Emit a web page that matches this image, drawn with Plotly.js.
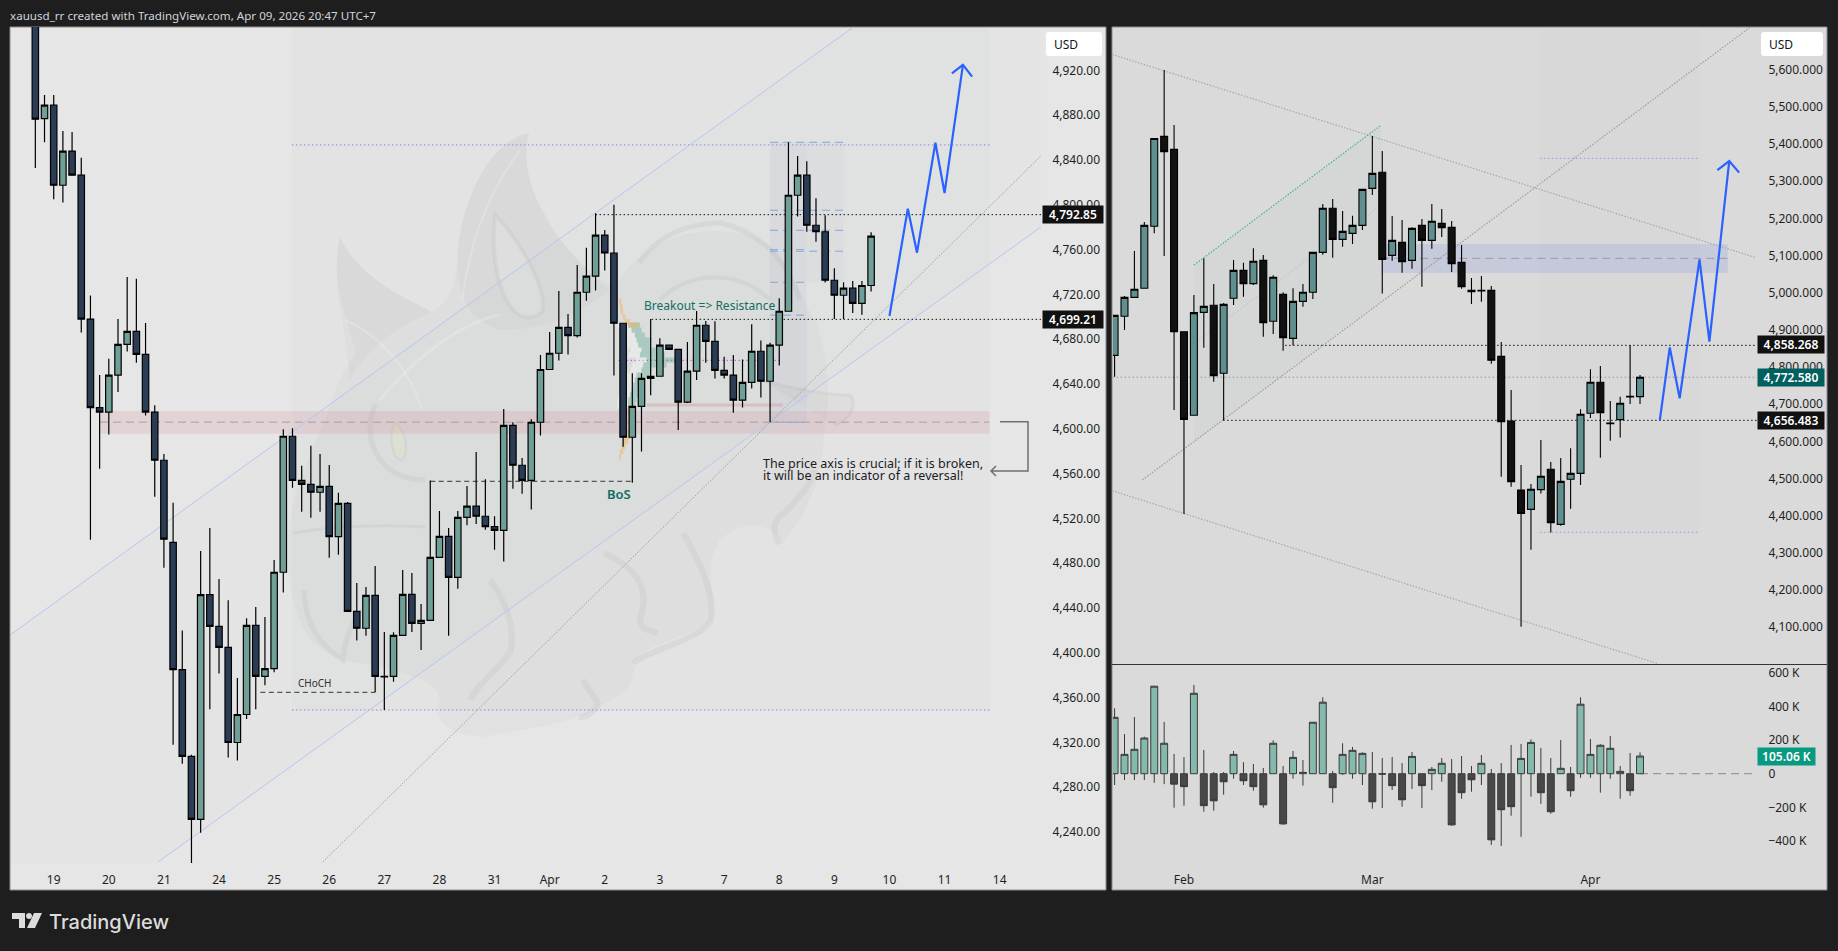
<!DOCTYPE html>
<html>
<head>
<meta charset="utf-8">
<script src="https://cdn.plot.ly/plotly-3.0.1.min.js"></script>
<style>html,body{margin:0;padding:0;background:#1e1e1e;overflow:hidden}</style>
</head>
<body>
<div id="chart" style="width:1838px;height:951px"></div>
<script>
// left pane, 4h candles
var leftOpen = [4975,4877,4889,4817.5,4848,4826.5,4698,4619,4615,4648,
  4675.5,4687,4666.5,4615,4572,4498.7,4385,4307.6,4251.4,4452,
  4423.7,4405,4320,4345,4424.6,4379,4386,4472,4593.4,4554,
  4550.5,4543.4,4548.7,4503.8,4533.5,4437,4422,4451.4,4379,4379,
  4415.7,4452.3,4426.4,4429,4485.3,4504,4467.5,4521,4531,4522,
  4512.7,4509.4,4603.2,4567.5,4554,4605.9,4653,4667.5,4690.7,4683.3,
  4722,4736.3,4773,4757,4694.3,4592.5,4620,4645,4647,4674.7,
  4671,4623.8,4651.5,4692.5,4678.2,4652.3,4648,4625.6,4641.6,4669.3,
  4642.5,4674.7,4705,4808.6,4826.5,4781.8,4776,4732.7,4719.3,4725.6,4712,4728]
var leftHigh = [4990,4898,4898,4866,4865,4842,4719,4648,4662.5,4698,
  4735.5,4734,4694.5,4621,4577.6,4534,4420,4309,4491,4511.5,
  4466,4447,4377.6,4431,4441,4432,4483,4599.6,4600.5,4567,
  4585,4577.6,4567.8,4543,4534.7,4462.4,4458.8,4477.6,4418.7,4418.4,
  4474,4471.3,4443.7,4554,4526.7,4511.5,4526.7,4549,4579.4,4555,
  4522,4617.8,4606,4574,4608.6,4666,4686.6,4723,4702.6,4746.4,
  4761.6,4792.5,4777.6,4800,4694.3,4649.7,4649.7,4698,4681,4674.7,
  4671,4677.6,4705.3,4696.4,4696,4664.5,4666,4662,4693.4,4679,
  4677,4716.6,4856,4843.7,4839,4806,4790.7,4743.4,4731,4732,4732,4775.6]
var leftLow = [4833,4856,4805,4802,4826.5,4686,4501,4564.5,4595,4633,
  4669,4659,4612,4539.5,4476,4318,4301,4212,4239.5,4349.6,
  4381.5,4306.5,4304,4341,4349.6,4371,4382.6,4453.8,4547.5,4526,
  4520.7,4526,4485,4487.7,4437,4411,4415.4,4364.8,4349,4374.3,
  4415.7,4418.7,4402.6,4429,4485.3,4415.4,4457.3,4514,4515,4510,
  4492,4481.5,4546.6,4542,4528,4594,4653,4661,4666.3,4681.5,
  4714.5,4723.5,4741.3,4647.6,4584,4552,4579.7,4630,4647,4671,
  4599,4623,4643.7,4659,4645,4645,4614.5,4619,4636,4628,
  4606,4656.5,4705,4789.5,4776,4767,4730.6,4698,4698,4703.5,4702,4722.6]
var leftClose = [4876.5,4889,4817.5,4848,4826.5,4698,4619,4615,4648,4675.5,
  4687,4666.5,4615,4572,4501.5,4385,4307.6,4251.4,4452,4423.7,
  4405,4320,4345,4424.6,4379,4386,4472,4593.4,4554,4550.5,
  4543.4,4548.7,4503.8,4533.5,4437,4422,4451.4,4379,4378.5,4415.7,
  4452.3,4426.4,4429,4485.3,4504,4467.5,4521,4531,4522,4512.7,
  4509.4,4603.2,4567.5,4554,4605.9,4653,4667.5,4690.7,4683.3,4722,
  4736.3,4773,4757,4694.3,4592.5,4620,4645,4647,4674.7,4671,
  4623.8,4651.5,4692.5,4678.2,4652.3,4648,4625.6,4641.6,4669.3,4642.5,
  4674.7,4705,4808.6,4826.5,4781.8,4776,4732.7,4719.3,4725.6,4712,4728,4772]
var leftTickIdx = [2,8,14,20,26,32,38,44,50,56,62,68,75,81,87,93,99,105]
var leftTickText = ['19','20','21','24','25','26','27','28','31','Apr','2','3','7','8','9','10','11','14']
var leftPriceTicks = [4240,4280,4320,4360,4400,4440,4480,4520,4560,4600,4640,4680,4720,4760,4800,4840,4880,4920]

// right pane, daily candles
var rightOpen = [4831.4,4936.4,4987.4,5011.7,5178.5,5420.6,5385.6,4895,4670,4947,
  4966,4783,4984.8,5060,5024.2,5087,4922.9,4995.5,4877,4976.7,
  5001,5108.5,5227,5143.5,5159.6,5181,5280.7,5323.8,5100.4,5135.4,
  5087,5181,5140.8,5186.5,5175.8,5081.6,5006.3,5006.3,5006.3,4828.7,
  4654.7,4469,4417,4470,4524.7,4376.7,4497.8,4513.9,4675.4,4758.8,
  4649.4,4658.4,4721,4720.2]
var rightHigh = [4940,4991,5112,5190,5415,5599,5451,4895,4993.7,5092.4,
  5023.4,4972.2,5088,5080.7,5119.3,5101.4,5046.6,5001,5011.7,5023.4,
  5108.5,5238.6,5252,5219.7,5207,5278,5421.5,5381,5206.4,5195.5,
  5175.8,5198,5238.6,5225,5192.8,5128.3,5039.5,5045,5018,4867,
  4738,4536.4,4485.3,4603.6,4544.4,4555.2,4581.2,4686,4793.7,4802.7,
  4708.5,4720.2,4858.3,4778.5]
var rightLow = [4774,4899.6,4987.4,5011.7,5159.6,5098.7,4684.4,4404.5,4670,4852,
  4760.6,4657.4,4966.8,4989.2,5020.6,4881.6,4888.8,4844,4858.4,4962.4,
  4983,5102,5094,5123.8,5131,5168.6,5262.8,4998,5086,5053.8,
  5064.6,5016,5118.4,5149.8,5055.6,5010.8,4969.5,4975.8,4809,4505,
  4478,4101.4,4308.6,4459.4,4355,4373,4418.9,4482.6,4662.8,4556,
  4601.8,4610,4700.5,4700.5]
var rightClose = [4939,4987.4,5009,5181,5415,5379.4,4895,4659.2,4946.2,4963.2,
  4776.7,4968.6,5060,5024.2,5084.4,4919.3,5041.3,4879,4976.7,5001,
  5108.5,5227,5143.5,5165,5181,5278,5321,5089.7,5140.8,5083.4,
  5173,5140.8,5192,5175,5078,5016,5002.7,5004.5,4818,4653,
  4491.5,4406.3,4470.9,4505.9,4381.2,4492.4,4513.9,4672.7,4758.8,4677.2,
  4647.6,4702.4,4719.3,4772.6]
var rightTickIdx = [7,26,48]
var rightTickText = ['Feb','Mar','Apr']
var rightPriceTicks = [4100,4200,4300,4400,4500,4600,4700,4800,4900,5000,5100,5200,5300,5400,5500,5600]

// cumulative volume delta pane, in K
var deltaClose = [335,115,145,212,520,181,-62,-77,478,-190,
  -161,-48,115,-42,-77,-185,181,-298,97,8,
  306,425,-83,115,139,121,-167,-2,-71,-155,
  103,-71,26,62,-304,-113,-36,62,-393,-214,
  -196,91,186,-113,-226,32,-101,413,115,169,
  151,14,-101,105.06]
var deltaHigh = [389,236,337,220,520,308,117,99,528,141,
  10,10,135,69,58,34,198,46,135,81,
  306,454,16,181,159,127,129,93,99,63,
  129,0,40,93,87,105,46,111,28,63,
  171,177,204,153,93,200,40,454,206,175,
  224,46,123,127]
var deltaLow = [-67,-38,-38,-38,-54,-62,-202,-190,0,-226,
  -220,-125,-30,-67,-101,-202,0,-304,-30,-71,
  0,0,-173,-8,-30,-67,-208,-204,-97,-196,
  -91,-204,-97,-48,-310,-149,-107,-67,-423,-429,
  -250,-375,-137,-179,-238,0,-137,-24,-24,-113,
  -30,-149,-131,0]
var deltaTicks = [-400,-200,0,200,400,600]
var deltaTickText = ['\u2212400 K','\u2212200 K','0','200 K','400 K','600 K']

// projected path arrows
var zigLeftX = [93,95,96,98,99,101]
var zigLeftY = [4700.8,4796.6,4757.3,4855.5,4810.6,4925]
var headLeftX = [99.8,101,102]
var headLeftY = [4917.5,4925,4914.5]
var zigRightX = [55,56,57,59,60,62]
var zigRightY = [4657.4,4852.9,4715.7,5089.7,4868,5354.2]
var headRightX = [60.8,62,63]
var headRightY = [5330,5354.2,5322.9]

// volume profile rows on the left pane
var profPrice = [4692.7,4688.2,4683.8,4679.4,4674.9,4670.4,4666,4661.5,4657,4652.6,4648.1,4643.6,4639.2,4634.7,4630.3,4625.8,4621.3]
var profStart = [64.55,64.92,65.28,65.46,65.64,66,65.82,66.55,66.19,66,65.46,65.28,65.1,64.92,64.74,64.55,64.55]
var profLen = [1.27,1.09,1.09,1.63,1.27,1.63,2.72,3.08,2.54,1.09,1.45,0.91,0.91,0.91,0.91,0.91,0.73]
var profOrangePrice = [4713.6,4709,4704.6,4700,4695.7,4692.7,4615.4,4606,4597.5,4593,4588.6,4584,4579.6,4575]
var profOrangeStart = [63.57,63.65,63.72,63.94,64.19,64.66,64.37,64.37,64.15,64.08,63.94,63.83,63.65,63.57]
var profOrangeLen = [0.22,0.29,0.29,0.29,0.54,0.98,0.58,0.58,0.65,0.65,0.58,0.4,0.36,0.22]

// fib levels on the left pane
var fibLong = [4855.9,4795.2,4777.3,4758.6]
var fibShort = [4760,4730.9,4701.5,4606]

var FONT = '"Noto Sans", "Liberation Sans", sans-serif'
var DOT = '1.5px,2.5px'
var FINE = '1.5px,1.5px'
var DASH = '5px,3.5px'
var LONG = '8px,5px'

function range_of(n) { return n.map(function (_, i) { return i }) }

function pp(d) {
    return d.replace(/(-?[\d.]+) (-?[\d.]+)/g, function (m, a, b) {
        return (a / 1838).toFixed(5) + ' ' + (1 - b / 951).toFixed(5)
    })
}

function paper_rect(x0, y0, x1, y1, fill, line) {
    return {type: 'rect', xref: 'paper', yref: 'paper', x0: x0 / 1838, x1: x1 / 1838, y0: 1 - y0 / 951, y1: 1 - y1 / 951,
        fillcolor: fill, line: line || {width: 0}, layer: 'below'}
}

function paper_path(d, fill, color, width, layer) {
    return {type: 'path', xref: 'paper', yref: 'paper', path: pp(d), fillcolor: fill || 'rgba(0,0,0,0)',
        line: {color: color || 'rgba(0,0,0,0)', width: width || 0}, layer: layer || 'below'}
}

function seg(ax, x0, y0, x1, y1, color, width, dash) {
    return {type: 'line', xref: 'x' + ax, yref: 'y' + ax, x0: x0, y0: y0, x1: x1, y1: y1,
        line: {color: color, width: width, dash: dash || 'solid'}, layer: 'below'}
}

function zone(ax, x0, y0, x1, y1, fill) {
    return {type: 'rect', xref: 'x' + ax, yref: 'y' + ax, x0: x0, y0: y0, x1: x1, y1: y1,
        fillcolor: fill, line: {width: 0}, layer: 'below'}
}

function txt(x, y, text, size, color, extra) {
    var a = {xref: 'paper', yref: 'paper', x: x / 1838, y: 1 - y / 951, text: text, showarrow: false,
        xanchor: 'left', yanchor: 'middle', align: 'left', font: {family: FONT, size: size, color: color}}
    for (var k in extra) a[k] = extra[k]
    return a
}

function tag(x, y, w, h, text, bg, size) {
    return txt(x, y, text, size || 12, '#ffffff', {bgcolor: bg, width: w, height: h, align: 'center', borderpad: 0,
        font: {family: FONT, size: size || 12, color: '#ffffff', weight: 600}})
}

function wick_bar(x, o, h, l, c, upFill, downFill, lineColor, ax, width) {
    return {type: 'candlestick', x: x, open: o, high: h, low: l, close: c, xaxis: 'x' + ax, yaxis: 'y' + ax,
        whiskerwidth: 0, hoverinfo: 'skip', showlegend: false,
        increasing: {fillcolor: upFill, line: {color: lineColor, width: width}},
        decreasing: {fillcolor: downFill, line: {color: lineColor, width: width}}}
}

function arrow_line(x, y, ax) {
    return {type: 'scatter', mode: 'lines', x: x, y: y, xaxis: 'x' + ax, yaxis: 'y' + ax, showlegend: false, hoverinfo: 'skip',
        line: {color: '#2962ff', width: 2.2}}
}

function prof_bar(price, start, len, color) {
    return {type: 'bar', orientation: 'h', y: price, x: len, base: start, width: 4.5, xaxis: 'x', yaxis: 'y',
        marker: {color: color, line: {width: 0}}, showlegend: false, hoverinfo: 'skip'}
}

var traces = [
    prof_bar(profPrice, profStart.map(function (v) { return v - 1.2 }), profLen.map(function () { return 1.2 }), 'rgba(255,255,255,0.35)'),
    prof_bar(profPrice, profStart, profLen, 'rgba(86,170,150,0.38)'),
    prof_bar(profOrangePrice, profOrangeStart, profOrangeLen, 'rgba(240,180,100,0.55)'),
    wick_bar(range_of(leftOpen), leftOpen, leftHigh, leftLow, leftClose, '#6f9f96', '#2a3d55', '#000000', '', 1.2),
    wick_bar(range_of(rightOpen), rightOpen, rightHigh, rightLow, rightClose, '#5f8f8f', '#111111', '#000000', '2', 1.1),
    wick_bar(range_of(deltaClose), deltaClose.map(function () { return 0 }), deltaHigh, deltaLow, deltaClose, '#84b9ad', '#484848', '#3a3a3a', '3', 1),
    arrow_line(zigLeftX, zigLeftY, ''),
    arrow_line(headLeftX, headLeftY, ''),
    arrow_line(zigRightX, zigRightY, '2'),
    arrow_line(headRightX, headRightY, '2')
]

var GHOST = 'rgba(95,95,105,0.03)'
var WISP = 'rgba(100,100,105,0.07)'
var PALE = 'rgba(255,255,255,0.22)'

var shapes = [
    // panes
    paper_rect(10, 27, 1106, 890, '#e6e6e6', {color: '#8c8c8c', width: 1}),
    paper_rect(1112, 27, 1827, 890, '#dadada', {color: '#8c8c8c', width: 1}),

    // watermark
    paper_path('M 326 420 C 335 380 352 360 356 353 C 345 310 330 280 340 237 C 360 280 410 300 432 312 C 448 300 455 295 458 250 C 462 200 490 140 529 133 C 522 160 530 190 545 215 C 560 245 590 275 615 287 C 640 240 700 220 754 237 C 790 250 800 300 815 320 C 830 360 830 400 825 430 C 820 480 815 490 800 520 L 782 544 C 770 520 740 520 720 540 C 700 570 720 610 711 620 C 690 640 650 640 633 663 C 640 690 610 700 597 707 C 590 720 520 730 483 737 C 450 735 430 720 440 700 C 440 680 400 670 343 660 C 320 650 300 640 290 587 C 285 540 290 500 305 470 C 310 450 318 435 326 420 Z', GHOST),
    paper_path('M 340 237 C 360 280 410 300 432 312 C 400 325 370 345 350 380 C 345 320 330 280 340 237 Z', GHOST),
    paper_path('M 529 133 C 522 160 530 190 545 215 C 560 245 590 275 610 290 C 570 320 540 330 500 330 C 470 320 455 300 458 250 C 462 200 490 140 529 133 Z', GHOST),
    paper_path('M 495 215 C 488 280 512 335 542 312 C 548 290 520 240 495 215 Z', 'rgba(255,255,255,0.14)', WISP, 4),
    paper_path('M 345 320 C 380 335 410 370 422 410', '', PALE, 2),
    paper_path('M 380 400 C 420 350 470 320 500 315', '', PALE, 3),
    paper_path('M 520 150 C 490 190 470 240 462 300', '', PALE, 2),
    paper_path('M 395 422 C 388 435 392 460 402 460 C 410 450 405 430 395 422 Z', 'rgba(240,240,180,0.22)', WISP, 2),
    paper_path('M 375 405 C 360 440 380 480 425 480', '', WISP, 5),
    paper_path('M 293 533 C 340 525 390 525 426 527', '', WISP, 3),
    paper_path('M 304 590 C 305 625 320 645 343 660 C 345 640 350 620 372 600', '', WISP, 5),
    paper_path('M 490 580 C 505 600 515 625 511 650 C 500 670 480 680 470 700', '', WISP, 6),
    paper_path('M 604 553 C 640 570 650 590 640 620 C 640 630 650 630 658 633', '', WISP, 6),
    paper_path('M 683 533 C 705 570 715 600 711 620 C 700 640 660 645 633 663', '', WISP, 6),
    paper_path('M 583 680 C 590 695 600 700 597 707 C 590 715 585 718 579 717', '', WISP, 6),
    paper_path('M 814 470 C 810 490 790 505 786 512 C 772 520 772 530 779 544', '', WISP, 6),
    paper_path('M 639 263 C 660 230 700 222 721 223 C 770 235 790 270 800 300', '', WISP, 5),
    paper_path('M 660 300 C 690 270 740 270 770 300', '', WISP, 4),
    paper_path('M 760 380 C 800 390 830 395 850 395 C 858 405 850 420 835 425', GHOST, WISP, 3),

    // left pane drawings
    zone('', 27.94, 4349, 103.9, 4958.8, 'rgba(170,170,190,0.05)'),
    {type: 'path', xref: 'x', yref: 'y', path: 'M -2.75 4416 L 109.5 5079.4 L 109.5 4780.3 L -2.75 4118 Z', fillcolor: 'rgba(110,180,120,0.025)', line: {width: 0}, layer: 'below'},
    zone('', 7.04, 4595.7, 103.9, 4616, 'rgba(205,120,130,0.17)'),
    zone('', 80, 4606, 84, 4855.9, 'rgba(100,120,180,0.06)'),
    zone('', 84, 4730.9, 88, 4855.9, 'rgba(100,120,180,0.035)'),
    seg('', 7.04, 4606, 103.9, 4606, '#a99f9f', 1, LONG),
    seg('', 27.94, 4853.5, 103.9, 4853.5, '#8d88cc', 1, DOT),
    seg('', 27.94, 4349, 103.9, 4349, '#9a7fe0', 1, DOT),
    seg('', -2.75, 4416, 89.07, 4958.8, '#b5c6ef', 1),
    seg('', 13.36, 4213.3, 109.5, 4780.3, '#b5c6ef', 1),
    seg('', 31.3, 4213.3, 109.5, 4843.7, '#9aa19f', 1, FINE),
    seg('', 61, 4791.25, 109.5, 4791.25, '#111111', 1, DOT),
    seg('', 67.1, 4697.8, 109.5, 4697.8, '#111111', 1, DOT),
    seg('', 43, 4553.2, 65, 4553.2, '#333333', 1, DASH),
    seg('', 24.5, 4364.8, 37, 4364.8, '#333333', 1, DASH),
    seg('', 63.5, 4661.2, 81.3, 4661.2, '#b44fc8', 1, DOT),
    seg('', 66.6, 4621.3, 81.4, 4621.3, 'rgba(205,130,130,0.3)', 3),

    // right pane drawings
    zone('2', 42.9, 4355, 59, 5714.8, 'rgba(205,205,220,0.1)'),
    {type: 'path', xref: 'x2', yref: 'y2', path: 'M 8 5074 L 26.9 5451 L 26.9 4980 L 8 4595 Z', fillcolor: 'rgba(120,175,160,0.05)', line: {width: 0}, layer: 'below'},
    zone('2', 26.9, 5053, 61.85, 5131, 'rgba(120,140,225,0.2)'),
    seg('2', 26.9, 5092.4, 61.85, 5092.4, '#9a9aa8', 1, LONG),
    seg('2', -0.23, 5641, 64.6, 5095, '#a3aaa8', 1.2, FINE),
    seg('2', -0.23, 4467, 54.7, 4002.7, '#a3aaa8', 1.2, FINE),
    seg('2', 2.8, 4496, 64.1, 5713.9, '#9c9e9e', 1.2, FINE),
    seg('2', 8, 5074.4, 26.9, 5451, '#43b596', 1.2, FINE),
    seg('2', 8, 4863.7, 26.9, 5235.9, '#c5c8c8', 1.2, FINE),
    seg('2', 42.9, 5361.4, 58.9, 5361.4, '#a78fe0', 1, DOT),
    seg('2', 42.9, 4355.2, 58.9, 4355.2, '#a78fe0', 1, DOT),
    seg('2', -0.2, 4772.58, 64.8, 4772.58, '#8f9a98', 1, DOT),
    seg('2', 17.2, 4858.27, 64.8, 4858.27, '#111111', 1, DOT),
    seg('2', 10.95, 4656.48, 64.8, 4656.48, '#111111', 1, DOT),
    seg('3', 53, 0, 64.8, 0, '#8a8a8a', 1, LONG),
    paper_rect(1112, 664, 1827, 665, '#333333'),

    // note bracket
    paper_path('M 1000 421.8 L 1028 421.8 L 1028 471 L 991 471 M 996 466 L 991 471 L 996 476', '', '#707070', 1.5, 'above'),

    // price scale unit boxes
    paper_path('M 1049 32 L 1099 32 Q 1102 32 1102 35 L 1102 53 Q 1102 56 1099 56 L 1049 56 Q 1046 56 1046 53 L 1046 35 Q 1046 32 1049 32 Z', '#ffffff', '', 0, 'above'),
    paper_path('M 1764 32 L 1820 32 Q 1823 32 1823 35 L 1823 53 Q 1823 56 1820 56 L 1764 56 Q 1761 56 1761 53 L 1761 35 Q 1761 32 1764 32 Z', '#ffffff', '', 0, 'above'),

    // footer logo
    paper_path('M 12 913 L 25 913 L 25 928 L 19 928 L 19 919 L 12 919 Z', '#dcdcdc', '', 0, 'above'),
    paper_path('M 26 916 C 26 912 32 912 32 916 C 32 920 26 920 26 916 Z', '#dcdcdc', '', 0, 'above'),
    paper_path('M 34 913 L 42 913 L 35 928 L 27 928 Z', '#dcdcdc', '', 0, 'above')
]

fibLong.forEach(function (p) { shapes.push(seg('', 80, p, 88, p, '#7fa9d8', 1, LONG)) })
fibShort.forEach(function (p) { shapes.push(seg('', 80, p, 84, p, '#7fa9d8', 1, LONG)) })

var annotations = [
    txt(8, 15, 'xauusd_rr created with TradingView.com, Apr 09, 2026 20:47 UTC+7', 11.6, '#d1d4dc'),
    txt(1052, 44, 'USD', 12, '#131722'),
    txt(1767, 44, 'USD', 12, '#131722'),
    tag(1042, 214.5, 60, 17, '4,792.85', '#111111'),
    tag(1042, 319.5, 60, 17, '4,699.21', '#111111'),
    tag(1757, 345, 66, 17, '4,858.268', '#111111'),
    tag(1757, 377, 66, 17, '4,772.580', '#005f5f'),
    tag(1757, 420.5, 66, 17, '4,656.483', '#111111'),
    tag(1757, 756.5, 57, 17, '105.06 K', '#089981'),
    txt(642, 305.7, 'Breakout => Resistance', 12, '#0f6e60'),
    txt(605, 494, 'BoS', 13, '#0f6e60', {font: {family: FONT, size: 13, color: '#0f6e60', weight: 600}}),
    txt(295.5, 683, 'CHoCH', 10, '#2f2f2f'),
    txt(761, 463, 'The price axis is crucial; if it is broken,', 12.5, '#1c1c1c'),
    txt(761, 475, 'it will be an indicator of a reversal!', 12.5, '#1c1c1c'),
    txt(47, 922, 'TradingView', 20, '#dcdcdc', {font: {family: 'Inter, ' + FONT, size: 20, color: '#dcdcdc', weight: 500}})
]

var AXFONT = {family: FONT, size: 12, color: '#1f1f1f'}

function price_axis(domain, range, anchor, vals, text, fmt) {
    var a = {domain: domain, range: range, anchor: anchor, side: 'right', showgrid: false, zeroline: false, showline: false,
        ticks: 'outside', ticklen: 8, tickcolor: 'rgba(0,0,0,0)', tickmode: 'array', tickvals: vals, tickfont: AXFONT, fixedrange: true}
    if (text) a.ticktext = text
    if (fmt) a.tickformat = fmt
    return a
}

function time_axis(domain, range, anchor, vals, text) {
    return {domain: domain, range: range, anchor: anchor, showgrid: false, zeroline: false, showline: false,
        rangeslider: {visible: false}, ticks: 'outside', ticklen: 6, tickcolor: 'rgba(0,0,0,0)', tickmode: 'array',
        tickvals: vals, ticktext: text, tickfont: AXFONT, fixedrange: true}
}

var rightDomain = [1113 / 1838, 1757 / 1838]

var layout = {
    width: 1838, height: 951, autosize: false,
    margin: {t: 0, l: 0, r: 0, b: 0, pad: 0},
    paper_bgcolor: '#1e1e1e', plot_bgcolor: 'rgba(0,0,0,0)',
    showlegend: false, barmode: 'overlay', dragmode: false,
    boxgap: 0.3, boxgroupgap: 0,
    xaxis: time_axis([11 / 1838, 1041 / 1838], [-2.65, 109.5], 'y', leftTickIdx, leftTickText),
    yaxis: price_axis([1 - 863 / 951, 1 - 27 / 951], [4212.4, 4958.8], 'x', leftPriceTicks, null, ',.2f'),
    xaxis2: time_axis(rightDomain, [-0.16, 64.8], 'y2', [], []),
    yaxis2: price_axis([1 - 664 / 951, 1 - 27 / 951], [4000.9, 5714.8], 'x2', rightPriceTicks, null, ',.3f'),
    xaxis3: time_axis(rightDomain, [-0.16, 64.8], 'y3', rightTickIdx, rightTickText),
    yaxis3: price_axis([1 - 863 / 951, 1 - 665 / 951], [-530.6, 646], 'x3', deltaTicks, deltaTickText),
    shapes: shapes,
    annotations: annotations
}

Plotly.newPlot('chart', traces, layout, {displayModeBar: false, staticPlot: true})
</script>
</body>
</html>
